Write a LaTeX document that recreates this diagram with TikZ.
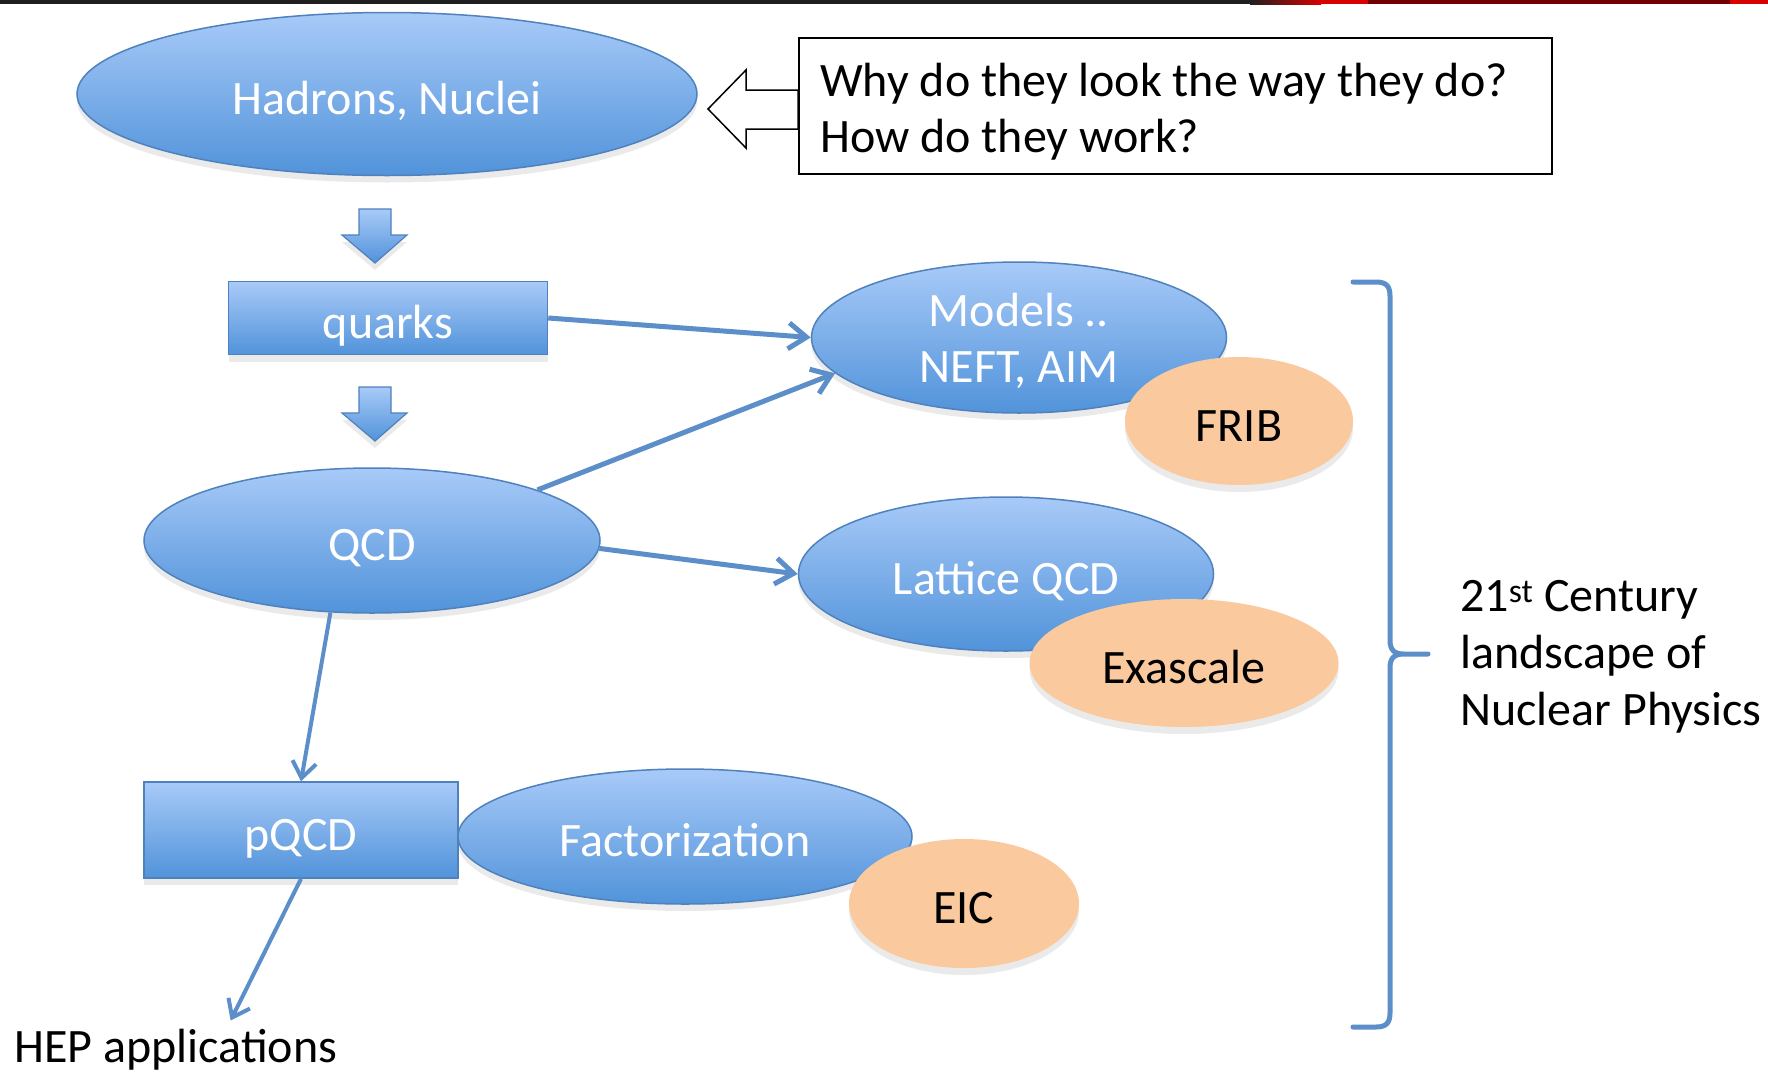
\documentclass[tikz,border=0pt]{standalone}
\usepackage{fontspec}
\setmainfont{Carlito}
\usetikzlibrary{shapes.geometric,arrows.meta,shadows,calc}
\definecolor{bluetop}{HTML}{A8CAF8}
\definecolor{bluebot}{HTML}{5193DA}
\definecolor{blueline}{HTML}{4F81BD}
\definecolor{conn}{HTML}{5C8FCA}
\definecolor{peach}{HTML}{FAC99E}
\begin{document}
\begin{tikzpicture}[x=1pt,y=-1pt,
  bigfont/.style={font=\fontsize{48}{56}\selectfont},
  shad/.style={drop shadow={opacity=0.16,shadow xshift=0pt,shadow yshift=-7pt}},
  oneline/.style={text height=40pt, text depth=0pt},
  blueell/.style={ellipse, draw=blueline, line width=1.5pt, top color=bluetop, bottom color=bluebot, shad, inner sep=0pt, text=white, bigfont, align=center},
  bluebox/.style={rectangle, draw=blueline, line width=1.5pt, top color=bluetop, bottom color=bluebot, shad, inner sep=0pt, text=white, bigfont, oneline},
  peachell/.style={ellipse, fill=peach, shad, inner sep=0pt, text=black, bigfont, oneline},
  conarrow/.style={draw=conn, line width=5pt, -{Straight Barb[length=18pt,width=26pt,line width=5pt]}},
  thinarrow/.style={draw=conn, line width=4pt, -{Straight Barb[length=16pt,width=24pt,line width=4pt]}},
  blockarrow/.style={draw=blueline, line width=1.2pt, top color=bluetop, bottom color=bluebot, shad},
  plaintext/.style={inner sep=0pt, text=black, font=\fontsize{48}{56}\selectfont},
]
\useasboundingbox (0,0) rectangle (1768,1071);
\fill[white] (0,0) rectangle (1768,1071);
% top rule
\fill[black!88] (0,0) rectangle (1250,4);
\shade[left color=black!88, right color=red!85!black] (1250,0) rectangle (1321,4);
\fill[red!85!black] (1321,0) rectangle (1368,4);
\fill[red!45!black] (1368,0) rectangle (1730,4);
\fill[red!85!black] (1730,0) rectangle (1768,4);

% hollow arrow and question box
\draw[black, line width=1.5pt, fill=white, line join=miter] (708,109) -- (746,70) -- (746,90) -- (798,90) -- (798,129) -- (746,129) -- (746,148) -- cycle;
\node[draw=black, line width=2pt, fill=white, minimum width=753pt, minimum height=136pt, inner sep=0pt] (qbox) at (1175,106) {};
\node[plaintext, anchor=west, align=left] (qtext) at (820,112) {Why do they look the way they do?\\How do they work?};

% block arrows
\draw[blockarrow] (359,209) -- (391,209) -- (391,235) -- (407,235) -- (375,263) -- (342,235) -- (359,235) -- cycle;
\draw[blockarrow] (359,387) -- (391,387) -- (391,413) -- (407,413) -- (375,441) -- (342,413) -- (359,413) -- cycle;

% blue nodes
\node[blueell, oneline, minimum width=620pt, minimum height=163pt] (hadrons) at (387,94) {Hadrons, Nuclei};
\node[bluebox, minimum width=319pt, minimum height=73pt] (quarks) at (388,318) {quarks};
\node[blueell, text depth=0pt, minimum width=415pt, minimum height=151pt] (models) at (1019,337.5) {Models ..\\NEFT, AIM};
\node[blueell, oneline, minimum width=456pt, minimum height=145pt] (qcd) at (372,540.5) {QCD};
\node[blueell, oneline, minimum width=415pt, minimum height=154pt] (lattice) at (1006,574) {Lattice QCD};
\node[bluebox, minimum width=314pt, minimum height=96pt] (pqcd) at (301,830) {pQCD};
\node[blueell, oneline, minimum width=454pt, minimum height=135pt] (fact) at (685,836.5) {Factorization};

% peach nodes
\node[peachell, minimum width=228pt, minimum height=128pt] (frib) at (1239,421) {FRIB};
\node[peachell, minimum width=309pt, minimum height=128pt] (exa) at (1184,663) {Exascale};
\node[peachell, minimum width=230pt, minimum height=129pt] (eic) at (964,903.5) {EIC};

% texts
\node[plaintext, anchor=base west] (hep) at (14,1062) {HEP applications};
\node[plaintext, anchor=west, align=left, font=\fontsize{48}{57}\selectfont] (land) at (1460,657) {21\textsuperscript{st} Century\\landscape of\\Nuclear Physics};

% connectors
\draw[conarrow] (quarks.east) -- (models.west);
\draw[conarrow] (qcd.17.4) -- (models.191);
\draw[conarrow] (qcd.-2) -- (lattice.west);
\draw[thinarrow] (qcd.240) -- (pqcd.north);
\draw[thinarrow] (pqcd.south) -- ($(hep.north west)!0.67!(hep.north east)+(0,-8)$);

% brace
\draw[conn, line width=5pt, line cap=round] (1353,282) -- (1376,282) .. controls (1386,282) and (1390,286) .. (1390,296) -- (1390,640) .. controls (1390,650) and (1394,654) .. (1404,654) -- (1428,654)
  (1404,654) .. controls (1394,654) and (1390,658) .. (1390,668) -- (1390,1013) .. controls (1390,1023) and (1386,1027) .. (1376,1027) -- (1353,1027);
\end{tikzpicture}
\end{document}
